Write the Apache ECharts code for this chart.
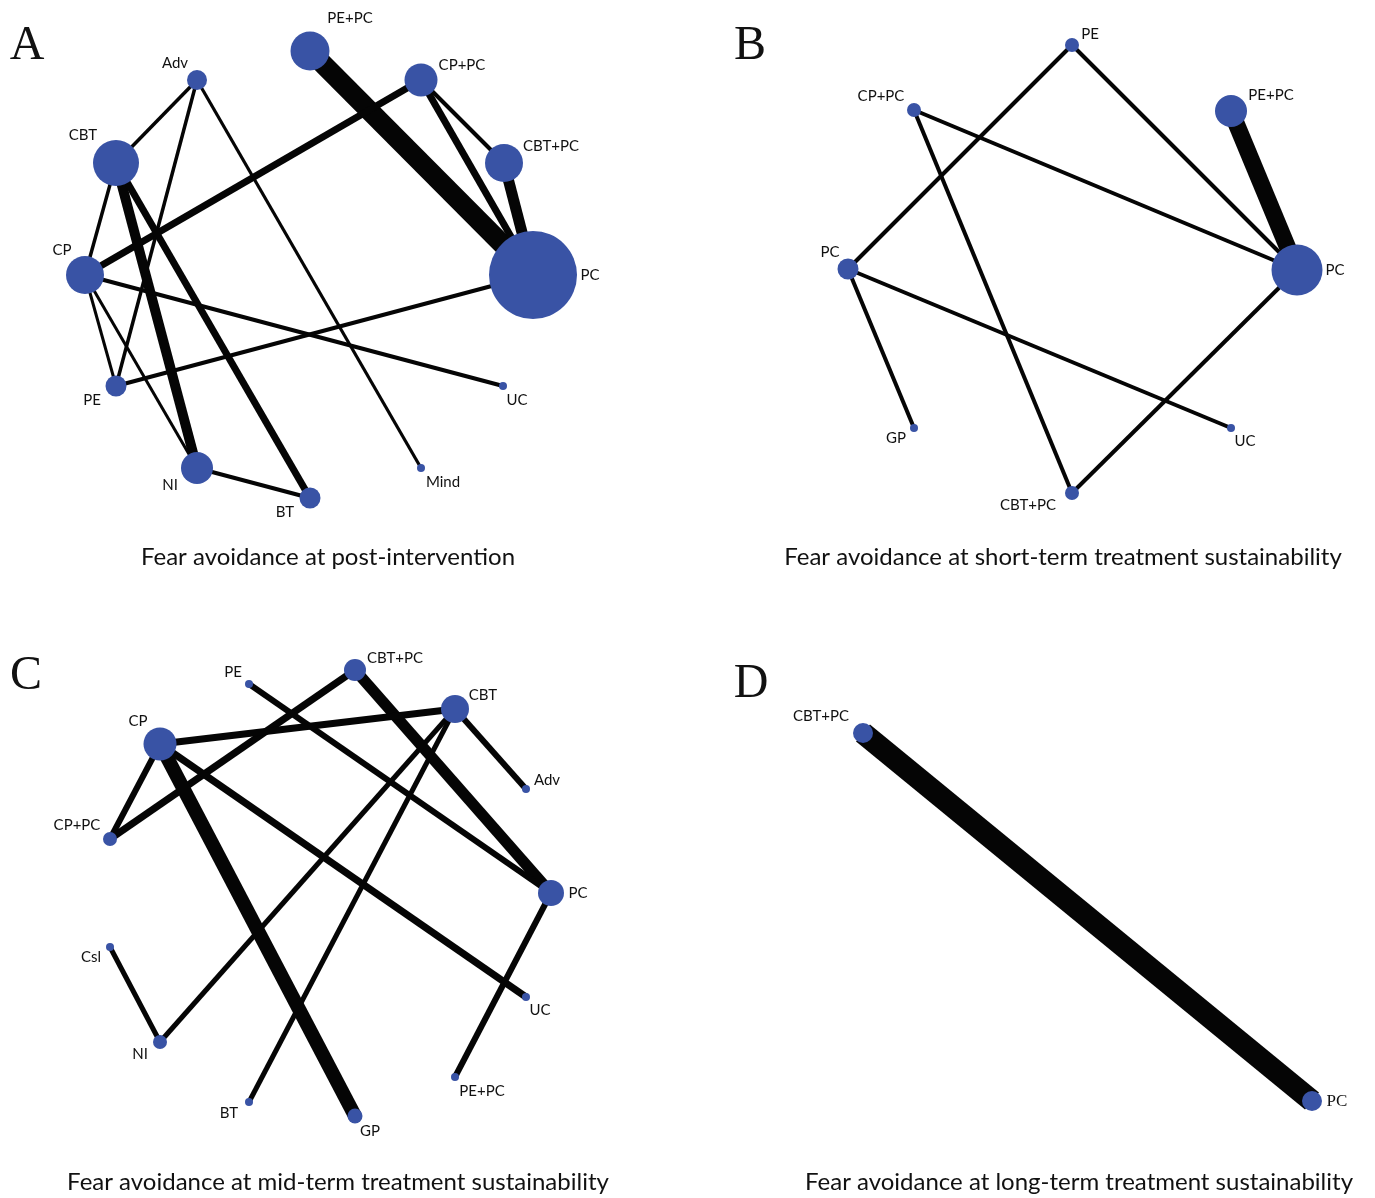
<!DOCTYPE html>
<html>
<head>
<meta charset="utf-8">
<script src="https://cdn.jsdelivr.net/npm/echarts@6/dist/echarts.min.js"></script>
<style>
html,body{margin:0;padding:0;background:#fff;}
#chart{width:1375px;height:1198px;}
</style>
</head>
<body>
<div id="chart"></div>
<script>
// ---------- Panel A: Fear avoidance at post-intervention ----------
const aNames = ['PE+PC','CP+PC','CBT+PC','PC','UC','Mind','BT','NI','PE','CP','CBT','Adv'];
const aX     = [310, 421, 504, 533, 503, 421, 310, 197, 116, 85, 116, 197];
const aY     = [51, 80, 163, 275, 386, 468, 498, 468, 386, 275, 163, 80];
const aSize  = [39, 33, 38, 88, 8, 8, 21, 32, 21, 38, 46, 20];
const aFrom  = ['PE+PC','CP+PC','CP+PC','CBT+PC','CP+PC','Adv','Adv','Adv','CBT','CBT','CBT','CP','CP','CP','PE','NI'];
const aTo    = ['PC','PC','CBT+PC','PC','CP','CBT','PE','Mind','CP','NI','BT','PE','NI','UC','PC','BT'];
const aW     = [20, 7, 4, 11, 7, 3.5, 3.5, 3.2, 3.5, 10, 7, 3, 3, 4, 4, 4];

// ---------- Panel B: short-term ----------
const bNames = ['PE','PE+PC','PC','UC','CBT+PC','GP','PC ','CP+PC'];
const bX     = [1072, 1231, 1297, 1231, 1072, 914, 848, 914];
const bY     = [45, 111, 270, 428, 493, 428, 269, 110];
const bSize  = [14, 32, 51, 8, 14, 8, 21, 14];
const bFrom  = ['PE','PE','CP+PC','CP+PC','PE+PC','PC ','PC ','CBT+PC'];
const bTo    = ['PC ','PC','PC','CBT+PC','PC','GP','UC','PC'];
const bW     = [4, 4, 4, 4, 17, 4, 4, 4];

// ---------- Panel C: mid-term ----------
const cNames = ['PC','Adv','CBT','CBT+PC','PE','CP','CP+PC','Csl','NI','BT','GP','PE+PC','UC'];
const cX     = [551, 526, 455, 355, 249, 160, 110, 110, 160, 249, 355, 455, 526];
const cY     = [893, 789, 709, 670, 684, 744, 839, 947, 1042, 1102, 1116, 1077, 997];
const cSize  = [26, 8, 28, 22, 8, 33, 14, 8, 14, 8, 15, 8, 8];
const cFrom  = ['CBT+PC','CBT+PC','PE','CBT','CBT','CBT','CBT','CP','CP','CP','Csl','PC'];
const cTo    = ['CP+PC','PC','PC','CP','Adv','NI','BT','CP+PC','GP','UC','NI','PE+PC'];
const cW     = [7, 11, 6, 7, 6, 5, 5, 6, 14, 7, 5, 6];

// ---------- Panel D: long-term ----------
const dNames = ['CBT+PC','PC'];
const dX     = [863, 1312];
const dY     = [733, 1101];
const dSize  = [20, 20];
const dFrom  = ['CBT+PC'];
const dTo    = ['PC'];
const dW     = [22];

const titles = [
  'Fear avoidance at post-intervention',
  'Fear avoidance at short-term treatment sustainability',
  'Fear avoidance at mid-term treatment sustainability',
  'Fear avoidance at long-term treatment sustainability'
];
const letters = ['A','B','C','D'];

// ---------- styling (label offsets from node centre, in px) ----------
const labelOffsets = [
  {'PE+PC':[40,-33],'CP+PC':[41,-15],'CBT+PC':[47,-17],'PC':[57,0],'UC':[14,14],'Mind':[22,14],
   'BT':[-25,14],'NI':[-27,17],'PE':[-24,14],'CP':[-23,-25],'CBT':[-33,-28],'Adv':[-22,-17]},
  {'PE':[18,-11],'PE+PC':[40,-16],'PC':[38,0],'UC':[14,13],'CBT+PC':[-44,12],'GP':[-18,10],
   'PC ':[-18,-17],'CP+PC':[-33,-14]},
  {'PC':[27,0],'Adv':[21,-9],'CBT':[28,-14],'CBT+PC':[40,-12],'PE':[-16,-12],'CP':[-22,-23],
   'CP+PC':[-33,-14],'Csl':[-19,10],'NI':[-20,12],'BT':[-20,11],'GP':[15,15],'PE+PC':[27,14],'UC':[14,13]},
  {'CBT+PC':[-42,-17],'PC':[25,1]}
];
const titlePos = [[328,557],[1063,557],[338,1182],[1079,1182]];
const letterPos = [[27,46],[750,46],[26,676],[751,684]];

const NODE_COLOR = '#3953a5';
const LABEL_FONT = 'Lato, "Noto Sans", sans-serif';

function buildSeries(idx, names, xs, ys, sizes, from, to, widths){
  const offs = labelOffsets[idx];
  const data = names.map((n,i)=>({
    name: n,
    value: [xs[i], ys[i]],
    symbolSize: sizes[i],
    label: {
      show: true,
      position: 'inside',
      align: 'center',
      verticalAlign: 'middle',
      offset: offs[n] || [0,0],
      formatter: n.trim(),
      fontFamily: (idx===3 && n==='PC') ? '"Liberation Serif", "DejaVu Serif", serif' : LABEL_FONT,
      fontSize: (idx===3 && n==='PC') ? 17 : 15,
      color: '#111'
    }
  }));
  const links = from.map((s,i)=>({
    source: names.indexOf(s),
    target: names.indexOf(to[i]),
    lineStyle: { width: widths[i] }
  }));
  return {
    type: 'graph',
    layout: 'none',
    coordinateSystem: 'cartesian2d',
    xAxisIndex: 0, yAxisIndex: 0,
    symbol: 'circle',
    itemStyle: { color: NODE_COLOR },
    lineStyle: { color: '#050505', opacity: 1, curveness: 0 },
    emphasis: { disabled: true },
    silent: true,
    animation: false,
    data: data,
    links: links,
    z: 2
  };
}

const chart = echarts.init(document.getElementById('chart'), null, {renderer:'canvas'});
const graphics = [];
titles.forEach((t,i)=>{
  graphics.push({
    type:'text', x:titlePos[i][0], y:titlePos[i][1],
    style:{ text:t, font:'24px Lato, "Noto Sans", sans-serif', fill:'#111',
            align:'center', verticalAlign:'middle', textAlign:'center', textVerticalAlign:'middle' }
  });
});
letters.forEach((t,i)=>{
  graphics.push({
    type:'text', x:letterPos[i][0], y:letterPos[i][1],
    style:{ text:t, font:'48px "Liberation Serif", "DejaVu Serif", serif', fill:'#111',
            align:'center', verticalAlign:'middle', textAlign:'center', textVerticalAlign:'middle' }
  });
});

chart.setOption({
  backgroundColor: '#ffffff',
  animation: false,
  grid: { left: 0, top: 0, width: 1375, height: 1198, containLabel: false, show: false },
  xAxis: { type: 'value', min: 0, max: 1375, show: false },
  yAxis: { type: 'value', min: 0, max: 1198, inverse: true, show: false },
  graphic: graphics,
  series: [
    buildSeries(0, aNames, aX, aY, aSize, aFrom, aTo, aW),
    buildSeries(1, bNames, bX, bY, bSize, bFrom, bTo, bW),
    buildSeries(2, cNames, cX, cY, cSize, cFrom, cTo, cW),
    buildSeries(3, dNames, dX, dY, dSize, dFrom, dTo, dW)
  ]
});
</script>
</body>
</html>
